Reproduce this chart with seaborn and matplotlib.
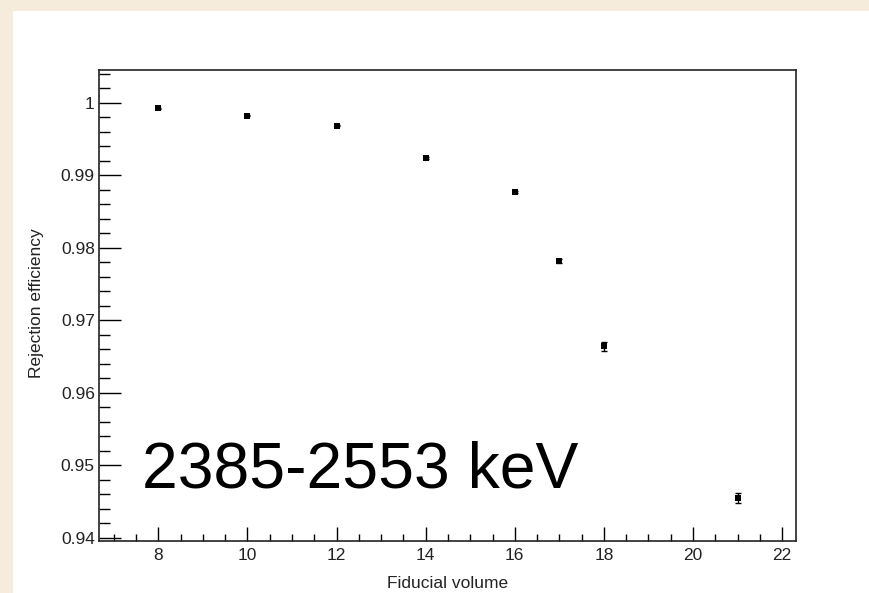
import matplotlib
matplotlib.use("Agg")
import matplotlib.pyplot as plt
from matplotlib.patches import Rectangle
from matplotlib.ticker import MultipleLocator, FuncFormatter
import seaborn as sns
import pandas as pd

# Rejection efficiency versus fiducial volume cut
fiducial_volume = [8, 10, 12, 14, 16, 17, 18, 21]
rejection_eff = [0.99923, 0.99821, 0.99683, 0.99233, 0.98768, 0.97817, 0.96640, 0.94552]
eff_err = [0.00005, 0.00006, 0.00008, 0.00012, 0.00018, 0.00030, 0.00060, 0.00070]
energy_window = "2385-2553 keV"

df = pd.DataFrame({"x": fiducial_volume, "y": rejection_eff, "err": eff_err})

sns.set_theme(style="white")
plt.rcParams["font.family"] = ["Liberation Sans", "DejaVu Sans"]

fig = plt.figure(figsize=(8.69, 5.93), dpi=100)
fig.patch.set_facecolor("#f5ecdc")
# white canvas pad on top of the cream background
pad = Rectangle((13 / 869, 0), 1, (593 - 11) / 593, transform=fig.transFigure,
                facecolor="white", edgecolor="none", zorder=-10)
fig.add_artist(pad)

ax = fig.add_axes([99 / 869, 52 / 593, 697 / 869, 471 / 593])
ax.set_zorder(5)
ax.set_facecolor("white")

ax.errorbar(df["x"], df["y"], yerr=df["err"], fmt="none", ecolor="black",
            elinewidth=1.0, capsize=2.2, capthick=1.0, zorder=2)
sns.scatterplot(data=df, x="x", y="y", marker="s", color="black", s=22,
                edgecolor="black", linewidth=0, ax=ax, zorder=3)

ax.set_xlim(6.67, 22.31)
ax.set_ylim(0.93955, 1.0045)

ax.xaxis.set_major_locator(MultipleLocator(2))
ax.xaxis.set_minor_locator(MultipleLocator(0.5))
ax.yaxis.set_major_locator(MultipleLocator(0.01))
ax.yaxis.set_minor_locator(MultipleLocator(0.002))
ax.yaxis.set_major_formatter(FuncFormatter(
    lambda v, p: "1" if abs(v - 1) < 1e-9 else f"{v:.2f}"))

ax.tick_params(axis="x", which="major", direction="in", length=10, width=1,
               labelsize=12.5, pad=5, color="black", labelcolor="#222222")
ax.tick_params(axis="x", which="minor", direction="in", length=5, width=1,
               color="black")
ax.tick_params(axis="y", which="major", direction="in", length=16, width=1,
               labelsize=12.5, pad=3, color="black", labelcolor="#222222")
ax.tick_params(axis="y", which="minor", direction="in", length=8, width=1,
               color="black")
ax.tick_params(bottom=True, left=True, which="both")

for side in ["top", "right", "bottom", "left"]:
    ax.spines[side].set_color("#222222")
    ax.spines[side].set_linewidth(1.2)

ax.set_xlabel("")
ax.set_ylabel("")
fig.text(448 / 869, 1 - 583 / 593, "Fiducial volume", ha="center", va="center",
         fontsize=12.5, color="#222222")
fig.text(37 / 869, 1 - 303 / 593, "Rejection efficiency", ha="center",
         va="center", rotation=90, fontsize=12.5, color="#222222")

ax.text(142 / 869, 1 - 487 / 593, energy_window, transform=fig.transFigure,
        ha="left", va="baseline", fontsize=46.3, color="black")

fig.savefig("out.png", dpi=100, facecolor=fig.get_facecolor())
